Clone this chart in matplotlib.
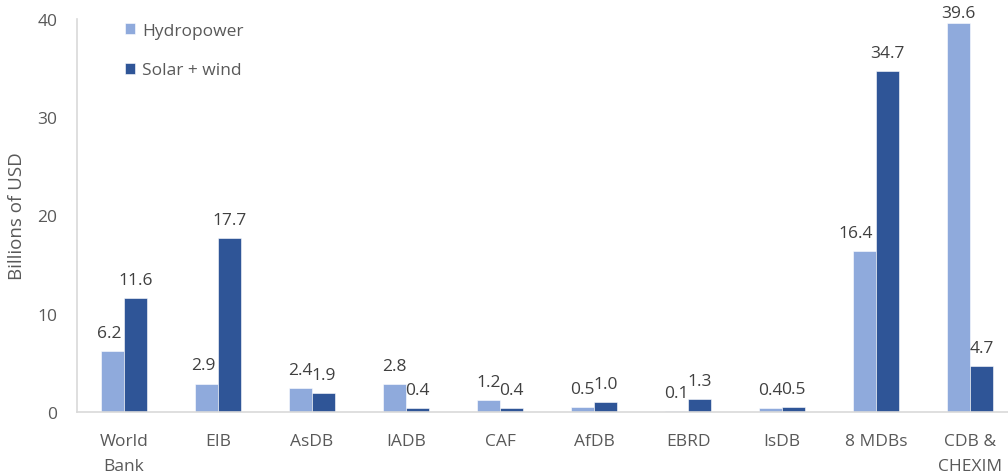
import matplotlib
matplotlib.use("Agg")
import matplotlib.pyplot as plt
from matplotlib.transforms import offset_copy
import numpy as np

categories = ["World\nBank", "EIB", "AsDB", "IADB", "CAF", "AfDB", "EBRD", "IsDB", "8 MDBs", "CDB &\nCHEXIM"]
hydropower = [6.2, 2.9, 2.4, 2.8, 1.2, 0.5, 0.1, 0.4, 16.4, 39.6]
solar_wind = [11.6, 17.7, 1.9, 0.4, 0.4, 1.0, 1.3, 0.5, 34.7, 4.7]
yticks = [0, 10, 20, 30, 40]

plt.rcParams['font.family'] = ['Open Sans', 'DejaVu Sans']
grey = "#595959"
dark = "#404040"
c_h = "#8FAADC"
c_s = "#2F5597"
fs = 12.5

fig = plt.figure(figsize=(10.08, 4.77), dpi=100)
ax = fig.add_axes([77/1008, 64/477, 940/1008, 393/477])
x = np.arange(len(categories))
w = 0.245
ax.bar(x - w/2, hydropower, w, color=c_h, edgecolor="white", linewidth=0.4, label="Hydropower")
ax.bar(x + w/2, solar_wind, w, color=c_s, edgecolor="white", linewidth=0.4, label="Solar + wind")

off = 1.45
ymax_label = 40.2
shift_left = offset_copy(ax.transData, fig=fig, x=-3, y=0, units="dots")
for xi, v, s in zip(x, hydropower, solar_wind):
    y = min(v + off, ymax_label)
    if s > v + 3:
        ax.text(xi, y, f"{v:.1f}", ha="right", va="baseline", fontsize=fs,
                color=dark, transform=shift_left, clip_on=False)
    else:
        ax.text(xi - w/2, y, f"{v:.1f}", ha="center", va="baseline", fontsize=fs,
                color=dark, clip_on=False)
for xi, v in zip(x + w/2, solar_wind):
    ax.text(xi, min(v + off, ymax_label), f"{v:.1f}", ha="center", va="baseline",
            fontsize=fs, color=dark, clip_on=False)

ax.set_xlim(-0.5, len(categories) - 0.5)
ax.set_ylim(0, 40)
ax.set_yticks(yticks)
ax.set_xticks(x)
ax.set_xticklabels(categories, fontsize=fs, color=grey, linespacing=1.8)
ax.tick_params(axis="y", labelsize=fs, colors=grey, length=0, pad=14)
ax.tick_params(axis="x", length=0, pad=15)
for s in ["top", "right"]:
    ax.spines[s].set_visible(False)
for s in ["left", "bottom"]:
    ax.spines[s].set_color("#D9D9D9")
    ax.spines[s].set_linewidth(1.2)
ax.set_ylabel("Billions of USD", fontsize=13.5, color=grey)
ax.yaxis.set_label_coords(-51/940, 0.5)
leg = ax.legend(loc="upper left", bbox_to_anchor=(32/940, 1.03), frameon=False,
                fontsize=fs, handlelength=0.6, handleheight=0.6, labelspacing=1.35,
                handletextpad=0.4)
for t in leg.get_texts():
    t.set_color(grey)
fig.savefig("out.png", dpi=100)
